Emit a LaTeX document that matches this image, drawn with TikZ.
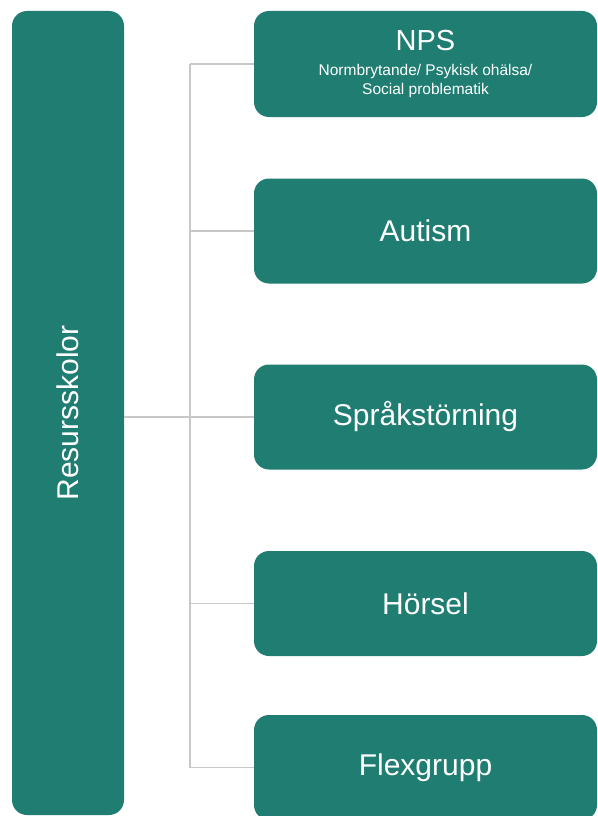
\documentclass[tikz,border=0pt]{standalone}
\usepackage{fontspec}
\setmainfont{Liberation Sans}
\definecolor{teal1}{HTML}{1F7D72}
\definecolor{linegray}{HTML}{C8C8C8}
\tikzset{
  box/.style={fill=teal1, rounded corners=15pt, text=white, align=center, inner sep=0pt,
    font=\fontsize{30}{34}\selectfont},
  link/.style={draw=linegray, line width=1.6pt}
}
\begin{document}
\begin{tikzpicture}[x=1pt,y=-1pt]
    \useasboundingbox (0,0) rectangle (597,816);
    % left column
    \node (skolor) [box, minimum width=112, minimum height=804] at (68,413)
        {\rotatebox{90}{Resursskolor}};
    % right column
    \node (nps) [box, minimum width=343, minimum height=106,
                 font=\fontsize{15.5}{19.5}\selectfont] at (425.5,64)
        {{\fontsize{29}{30}\selectfont NPS}\\[5pt]
         Normbrytande/ Psykisk ohälsa/\\Social problematik};
    \foreach \n/\y/\t in {autism/231/Autism, sprak/417/Språkstörning,
                          horsel/603.5/Hörsel, flex/767.5/Flexgrupp}
        \node (\n) [box, minimum width=343, minimum height=105] at (425.5,\y) {\t};
    % connectors
    \coordinate (split) at (190,417);
    \draw[link] (skolor.east |- split) -- (sprak.west);
    \draw[link] (split |- nps.west) -- (split |- flex.west);
    \foreach \n in {nps,autism,horsel,flex}
        \draw[link] (split |- \n.west) -- (\n.west);
\end{tikzpicture}
\end{document}
